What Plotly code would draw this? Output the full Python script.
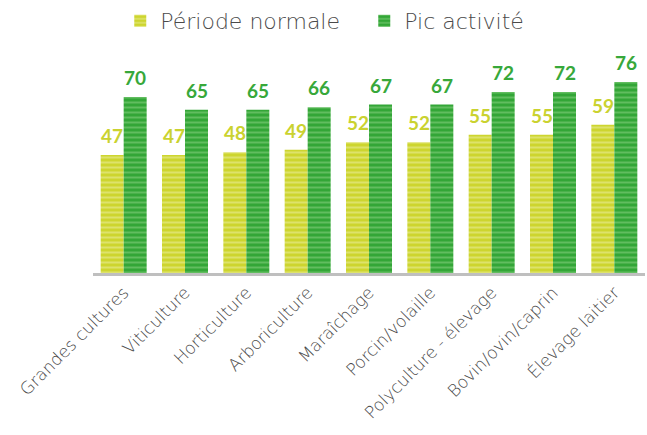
import plotly.graph_objects as go

categories = ["Grandes cultures", "Viticulture", "Horticulture", "Arboriculture",
              "Maraîchage", "Porcin/volaille", "Polyculture - élevage",
              "Bovin/ovin/caprin", "Élevage laitier"]
periode_normale = [47, 47, 48, 49, 52, 52, 55, 55, 59]
pic_activite = [70, 65, 65, 66, 67, 67, 72, 72, 76]

YELLOW = "#cdd52f"
YELLOW_LIGHT = "#eef0a8"
GREEN = "#33a637"
GREEN_LIGHT = "#8fd488"
YELLOW_TEXT = "#cad230"
GREEN_TEXT = "#37a83a"
FONT = "DejaVu Sans"
GRAY = "#4a4a4a"

fig = go.Figure()
for name, vals, base, light in [("Période normale", periode_normale, YELLOW, YELLOW_LIGHT),
                                ("Pic activité", pic_activite, GREEN, GREEN_LIGHT)]:
    fig.add_trace(go.Bar(
        x=categories, y=vals, name=name,
        marker=dict(color=base, line=dict(width=0),
                    pattern=dict(shape="-", fillmode="overlay", fgcolor=light,
                                 size=5, solidity=0.4)),
    ))

# value labels above each bar, shifted to the left/right bar of the group
annotations = []
for vals, color, dx in [(periode_normale, YELLOW_TEXT, -11.5), (pic_activite, GREEN_TEXT, 11.5)]:
    for c, v in zip(categories, vals):
        annotations.append(dict(
            x=c, y=v, xref="x", yref="y", text=f"<b>{v}</b>", showarrow=False,
            xshift=dx, yshift=6, yanchor="bottom",
            font=dict(family="Lato", size=19, color=color),
        ))

fig.update_layout(
    width=647, height=435,
    margin=dict(l=93, r=2, t=35, b=162, autoexpand=False),
    paper_bgcolor="white", plot_bgcolor="white",
    barmode="group", bargap=0.25, bargroupgap=0,
    font=dict(family=FONT, color=GRAY),
    legend=dict(orientation="h", xref="container", x=0.563, xanchor="center",
                y=1.0, yanchor="top", yref="container",
                font=dict(size=22, color=GRAY, family=FONT, weight=200),
                itemwidth=30, tracegroupgap=0, entrywidth=199),
    showlegend=True,
    annotations=annotations,
)
fig.update_xaxes(showline=True, linecolor="#bfbfbf", linewidth=3, ticks="",
                 tickangle=-45, automargin=False,
                 tickfont=dict(size=17, color=GRAY, family=FONT, weight=200),
                 showgrid=False)
fig.update_yaxes(range=[0, 94.7], visible=False, showgrid=False, automargin=False)

fig.write_html("out.html")
